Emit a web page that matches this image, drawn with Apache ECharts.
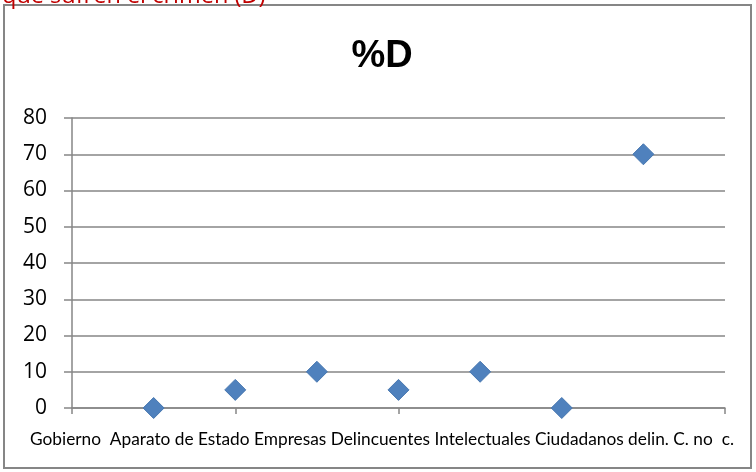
<!DOCTYPE html>
<html>
<head>
<meta charset="utf-8">
<script src="https://cdn.jsdelivr.net/npm/echarts@6/dist/echarts.min.js"></script>
<style>
html,body{margin:0;padding:0;background:#fff;}
#c{width:756px;height:472px;}
</style>
</head>
<body>
<div id="c"></div>
<script>
var categories = ["Gobierno ", "Aparato de Estado", "Empresas", "Delincuentes", "Intelectuales", "Ciudadanos", "delin. C. no  c."];
var values = [0, 5, 10, 5, 10, 0, 70];
var yTicks = [0, 10, 20, 30, 40, 50, 60, 70, 80];
var titleText = "%D";
var headerText = "que sufren el crimen (D)";

var points = values.map(function (v, i) { return [i + 1, v]; });
var chart = echarts.init(document.getElementById('c'), null, {renderer: 'canvas'});
var grey = '#868686';
chart.setOption({
  animation: false,
  backgroundColor: '#fff',
  grid: {left: 72, right: 31, top: 118, bottom: 64},
  xAxis: {
    type: 'value', min: 0, max: 8, interval: 2,
    axisLine: {show: true, lineStyle: {color: grey, width: 1.5}},
    axisTick: {show: true, length: 6, lineStyle: {color: grey, width: 1.5}},
    axisLabel: {show: false},
    splitLine: {show: false}
  },
  yAxis: {
    type: 'value', min: yTicks[0], max: yTicks[yTicks.length - 1], interval: 10,
    axisLine: {show: true, lineStyle: {color: grey, width: 1.5}},
    axisTick: {show: true, length: 8, lineStyle: {color: grey, width: 1.5}},
    axisLabel: {margin: 25, fontSize: 21, color: '#000', fontFamily: 'Open Sans'},
    splitLine: {show: true, lineStyle: {color: grey, width: 1.5}}
  },
  series: [{
    type: 'scatter',
    data: points,
    symbol: 'diamond',
    symbolSize: 21,
    clip: false,
    itemStyle: {color: '#4F81BD', borderColor: '#4877b0', borderWidth: 1, opacity: 1}
  }],
  graphic: [
    {type: 'rect', shape: {x: 4, y: 5, width: 747, height: 463}, style: {fill: 'none', stroke: grey, lineWidth: 2}, z: 10},
    {type: 'text', left: 2, top: -16, style: {text: headerText, fontSize: 23.5, fill: '#c00000', fontFamily: 'Open Sans'}, z: 11},
    {type: 'text', x: 382, y: 57, style: {text: titleText, fontSize: 38, fontWeight: 'bold', fill: '#000', fontFamily: 'Liberation Sans', align: 'center', verticalAlign: 'middle'}, z: 11},
    {type: 'text', x: 30, y: 439, style: {text: categories.join(' '), fontSize: 17.3, fill: '#000', fontFamily: 'Lato', align: 'left', verticalAlign: 'middle'}, z: 11}
  ]
});
</script>
</body>
</html>
